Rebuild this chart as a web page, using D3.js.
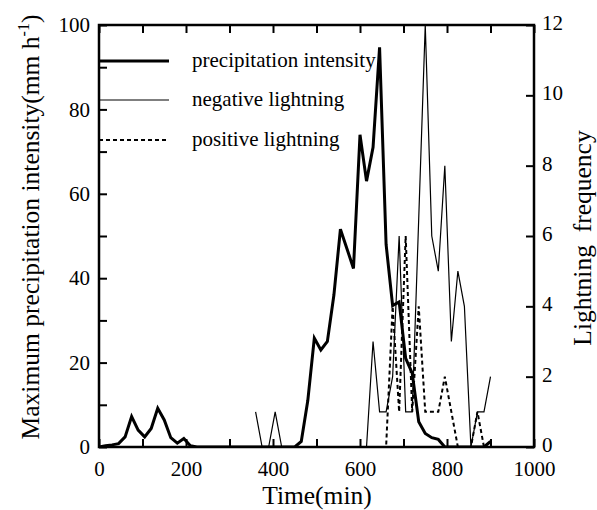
<!DOCTYPE html>
<html><head><meta charset="utf-8">
<script src="https://cdn.jsdelivr.net/npm/d3@7"></script>
<style>body{margin:0;background:#fff}svg{display:block}text{font-family:"Liberation Serif","Times New Roman",serif !important;fill:#000}</style>
</head><body>
<script>
const precipTime = [0,15,30,45,60,75,90,105,120,135,150,165,180,195,210,225,240,255,270,285,300,315,330,345,360,375,390,405,420,435,450,465,480,495,510,525,540,555,570,585,600,615,630,645,660,675,690,705,720,735,750,765,780,795,810,825,840,855,870,885,900];
const precipValue = [0,0.3,0.5,0.8,2.4,7.2,4,2.4,4.4,9.2,6.4,2.2,0.9,2,0.3,0,0,0,0,0,0,0,0,0,0,0,0,0,0,0,0,1.3,11,25.8,23,25,36,51.6,47,42.3,74,63,71,94.7,48,33.5,34.4,21,17.5,6,3.2,2.2,1.8,0,0,0,0,0,0,0,1.3];
const lightTime = [360,375,390,405,420,435,450,465,480,495,510,525,540,555,570,585,600,615,630,645,660,675,690,705,720,735,750,765,780,795,810,825,840,855,870,885,900];
const negValue = [1,0,0,1,0,0,0,0,0,0,0,0,0,0,0,0,0,0,3,1,1,2,6,1,1,6.5,12,6,5,8,3,5,4,0,1,1,2];
const posValue = [0,0,0,0,0,0,0,0,0,0,0,0,0,0,0,0,0,0,0,0,0,4,1,6,1,4,1,1,1,2,1,0,0,0,1,0,0];
const xTicks = [0,200,400,600,800,1000];
const yLeftTicks = [0,20,40,60,80,100];
const yRightTicks = [0,2,4,6,8,10,12];
const legendLabels = ["precipitation intensity","negative lightning","positive lightning"];

const W=597,H=510, L=99, R=534, T=25, B=447;
const svg=d3.select("body").append("svg").attr("width",W).attr("height",H);
const x=d3.scaleLinear().domain([0,1000]).range([L,R]);
const yL=d3.scaleLinear().domain([0,100]).range([B,T]);
const yR=d3.scaleLinear().domain([0,12]).range([B,T]);

svg.append("defs").append("clipPath").attr("id","c").append("rect").attr("x",L).attr("y",T-2).attr("width",R-L).attr("height",B-T+2);
const g=svg.append("g").attr("clip-path","url(#c)");

const line=(ys)=>d3.line().x(d=>x(d[0])).y(d=>ys(d[1]));
g.append("path").datum(lightTime.map((t,i)=>[t,posValue[i]])).attr("d",line(yR)).attr("fill","none").attr("stroke","#000").attr("stroke-width",2).attr("stroke-dasharray","4,3");
g.append("path").datum(lightTime.map((t,i)=>[t,negValue[i]])).attr("d",line(yR)).attr("fill","none").attr("stroke","#000").attr("stroke-width",1.2);
g.append("path").datum(precipTime.map((t,i)=>[t,precipValue[i]])).attr("d",line(yL)).attr("fill","none").attr("stroke","#000").attr("stroke-width",3).attr("stroke-linejoin","miter");

// axes
const fs=21;
function styleAxis(sel){sel.attr("font-family",null).attr("font-size",null);sel.select(".domain").remove();sel.selectAll("line").attr("stroke","#000").attr("stroke-width",2);sel.selectAll("text").style("font-size",fs+"px");}
svg.append("g").attr("transform",`translate(0,${B})`).call(d3.axisBottom(x).tickValues([0,100,200,300,400,500,600,700,800,900,1000]).tickSize(-8).tickPadding(14).tickFormat(d=>xTicks.includes(d)?d:"")).call(styleAxis);
svg.append("g").attr("transform",`translate(0,${T})`).call(d3.axisTop(x).tickValues([0,100,200,300,400,500,600,700,800,900,1000]).tickSize(-8).tickFormat("")).call(styleAxis);
svg.append("g").attr("transform",`translate(${L},0)`).call(d3.axisLeft(yL).tickValues([0,10,20,30,40,50,60,70,80,90,100]).tickSize(-8).tickPadding(9).tickFormat(d=>yLeftTicks.includes(d)?d:"")).call(styleAxis);
svg.append("g").attr("transform",`translate(${R},0)`).call(d3.axisRight(yR).tickValues(yRightTicks).tickSize(-8).tickPadding(8)).call(styleAxis).selectAll("text").attr("dy","0.22em");
svg.append("rect").attr("x",L).attr("y",T).attr("width",R-L).attr("height",B-T).attr("fill","none").attr("stroke","#000").attr("stroke-width",2.5);

// legend
const lg=[{y:61,w:3,dash:null},{y:100,w:1.2,dash:null},{y:140,w:2,dash:"4,3"}];
lg.forEach((d,i)=>{
  svg.append("line").attr("x1",L).attr("x2",169).attr("y1",d.y).attr("y2",d.y).attr("stroke","#000").attr("stroke-width",d.w).attr("stroke-dasharray",d.dash);
  svg.append("text").attr("x",192).attr("y",d.y+6).style("font-size","21px").text(legendLabels[i]);
});

// titles
svg.append("text").attr("x",317).attr("y",504).attr("text-anchor","middle").style("font-size","25.5px").text("Time(min)");
const lt=svg.append("text").attr("transform","translate(39,227) rotate(-90)").attr("text-anchor","middle").style("font-size","25.5px");
lt.append("tspan").text("Maximum precipitation intensity(mm h");
lt.append("tspan").attr("dy",-10).style("font-size","16px").text("-1");
lt.append("tspan").attr("dy",10).text(")");
svg.append("text").attr("transform","translate(591,238) rotate(-90)").attr("text-anchor","middle").style("font-size","25.5px").style("white-space","pre").text("Lightning  frequency");
</script>
</body></html>
